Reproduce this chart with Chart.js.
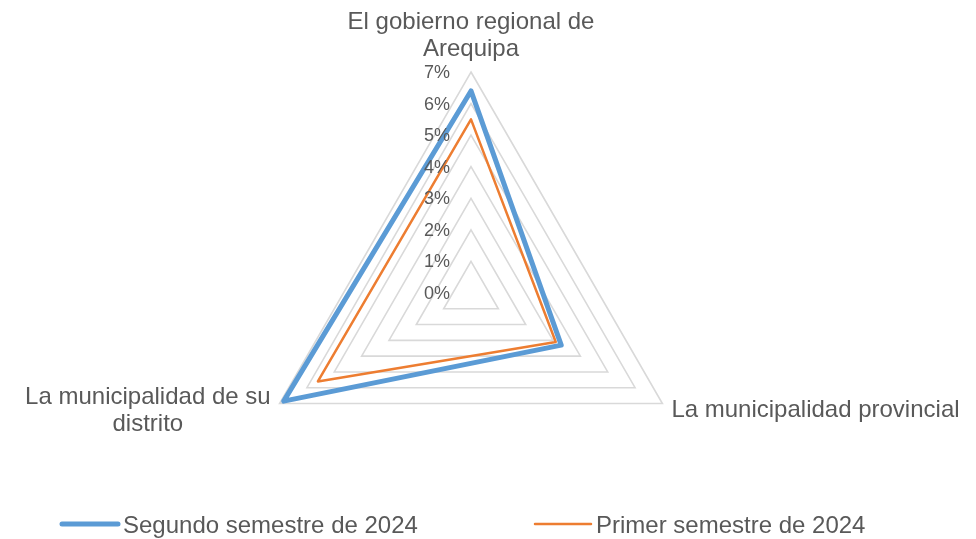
<!DOCTYPE html>
<html lang="es">
<head>
<meta charset="utf-8">
<title>Radar</title>
<script src="https://cdn.jsdelivr.net/npm/chart.js@4.4.1/dist/chart.umd.min.js"></script>
<style>
  html, body { margin: 0; padding: 0; background: #fff; }
  canvas { display: block; }
</style>
</head>
<body>
<canvas id="radar" width="976" height="539"></canvas>
<script>
// categorías del radar (cada una partida en líneas como en el original)
const categorias = [
  ["El gobierno regional de", "Arequipa"],
  ["La municipalidad provincial"],
  ["La municipalidad de su", "distrito"]
];
const nombresSeries = ["Segundo semestre de 2024", "Primer semestre de 2024"];
// valores en %
const segundoSemestre = [6.4, 3.3, 6.85];
const primerSemestre = [5.5, 3.1, 5.6];
const ticksEje = [0, 1, 2, 3, 4, 5, 6, 7];

const colorTexto = "#595959";
const fuente = "'Liberation Sans', Arial, sans-serif";

// dibuja valores del eje, nombres de categorías y leyenda
const etiquetasRadar = {
  id: "etiquetasRadar",
  afterDraw(chart) {
    const ctx = chart.ctx;
    const r = chart.scales.r;
    ctx.save();
    ctx.fillStyle = colorTexto;

    ctx.font = "18px " + fuente;
    ctx.textAlign = "right";
    ctx.textBaseline = "middle";
    r.ticks.forEach(t => {
      const y = r.yCenter - r.getDistanceFromCenterForValue(t.value);
      ctx.fillText(t.value + "%", r.xCenter - 21, y + 1);
    });

    ctx.font = "24px " + fuente;
    ctx.textBaseline = "alphabetic";
    chart.data.labels.forEach((lineas, i) => {
      const p = r.getPointPosition(i, r.drawingArea);
      const dx = p.x - r.xCenter;
      if (Math.abs(dx) < 1) {
        ctx.textAlign = "center";
        lineas.forEach((l, k) => ctx.fillText(l, p.x, p.y - 16 - (lineas.length - 1 - k) * 27));
      } else if (dx > 0) {
        ctx.textAlign = "left";
        lineas.forEach((l, k) => ctx.fillText(l, p.x + 9, p.y + 13 + k * 27));
      } else {
        const ancho = Math.max(...lineas.map(l => ctx.measureText(l).width));
        ctx.textAlign = "center";
        lineas.forEach((l, k) => ctx.fillText(l, p.x - 9 - ancho / 2, p.y + k * 27));
      }
    });

    // leyenda
    ctx.textAlign = "left";
    ctx.lineCap = "round";
    chart.data.datasets.forEach((ds, i) => {
      const x = 62 + i * 473;
      ctx.strokeStyle = ds.borderColor;
      ctx.lineWidth = ds.borderWidth;
      ctx.beginPath();
      ctx.moveTo(x, 524);
      ctx.lineTo(x + 56, 524);
      ctx.stroke();
      ctx.fillText(ds.label, x + 61, 533);
    });
    ctx.restore();
  }
};

const ctx = document.getElementById("radar").getContext("2d");
const radar = new Chart(ctx, {
  type: "radar",
  data: {
    labels: categorias,
    datasets: [{
      label: nombresSeries[0],
      data: segundoSemestre,
      borderColor: "#5B9BD5",
      backgroundColor: "transparent",
      borderWidth: 5,
      borderJoinStyle: "round",
      pointRadius: 0,
      fill: false
    }, {
      label: nombresSeries[1],
      data: primerSemestre,
      borderColor: "#ED7D31",
      backgroundColor: "transparent",
      borderWidth: 2.5,
      borderJoinStyle: "round",
      pointRadius: 0,
      fill: false
    }]
  },
  options: {
    responsive: false,
    animation: false,
    layout: {
      padding: { top: 72, bottom: 25, left: 20, right: 54 }
    },
    scales: {
      r: {
        min: ticksEje[0],
        max: ticksEje[ticksEje.length - 1],
        ticks: { display: false, stepSize: 1 },
        pointLabels: { display: false },
        angleLines: { display: false },
        grid: { color: "#D9D9D9", lineWidth: 1.6 }
      }
    },
    plugins: {
      legend: { display: false },
      tooltip: { enabled: false }
    }
  },
  plugins: [etiquetasRadar]
});
</script>
</body>
</html>
